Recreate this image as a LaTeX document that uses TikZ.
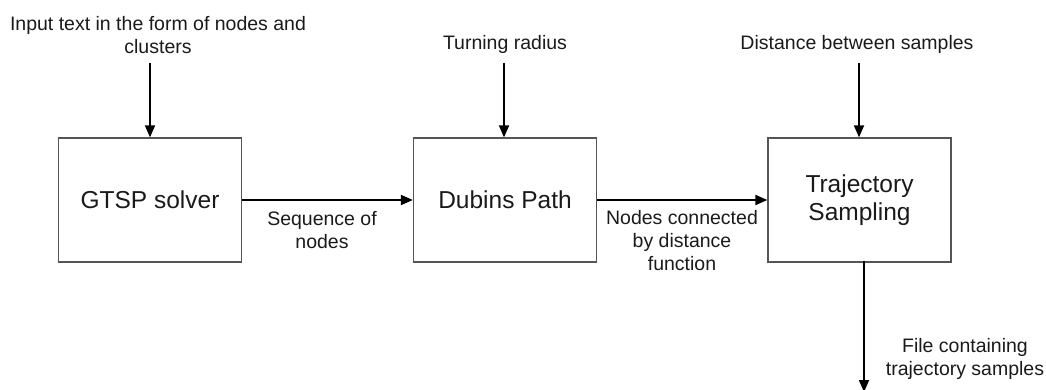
\documentclass[tikz,border=0pt]{standalone}
\usepackage{fontspec}
\setmainfont{Liberation Sans}
\usetikzlibrary{arrows.meta}
\definecolor{ink}{HTML}{1A1A1A}
\definecolor{boxgray}{HTML}{555555}
\begin{document}
\begin{tikzpicture}[x=1pt,y=-1pt,
  block/.style={draw=boxgray, line width=1.3pt, minimum width=183pt,
    minimum height=124pt, inner sep=0pt, text=ink, align=center,
    font=\fontsize{24.5}{28}\selectfont},
  lbl/.style={inner sep=0pt, text=ink, align=center,
    font=\fontsize{19.5}{23}\selectfont},
  flow/.style={line width=1.8pt, draw=black,
    -{Triangle[length=12pt,width=10pt]}}]
\useasboundingbox (0,0) rectangle (1046,390);

% processing stages
\node[block] (gtsp)   at (150,200)   {GTSP solver};
\node[block] (dubins) at (505,200)   {Dubins Path};
\node[block] (traj)   at (859.5,200) {Trajectory\\Sampling};

% inputs above each stage (base = baseline of the last line)
\node[lbl, anchor=base] (inlbl)   at (158,54) {Input text in the form of nodes and\\clusters};
\node[lbl, anchor=base] (radlbl)  at (505,50) {Turning radius};
\node[lbl, anchor=base] (distlbl) at (857,50) {Distance between samples};

\coordinate (gtspin)   at (150,63);
\coordinate (dubinsin) at (504,63);
\coordinate (trajin)   at (859,63);
\coordinate (trajout)  at (864,392);

\draw[flow] (gtspin) -- (gtsp.north -| gtspin);
\draw[flow] (dubinsin) -- (dubins.north -| dubinsin);
\draw[flow] (trajin) -- (traj.north -| trajin);

% data passed between stages
\draw[flow] (gtsp.east) -- (dubins.west);
\draw[flow] (dubins.east) -- (traj.west);
\draw[flow] ([yshift=2pt]traj.south -| trajout) -- (trajout);

\node[lbl, anchor=base] (seqlbl)  at (322,248) {Sequence of\\nodes};
\node[lbl, anchor=base] (conlbl)  at (682,270) {Nodes connected\\by distance\\function};
\node[lbl, anchor=base] (filelbl) at (965,375) {File containing\\trajectory samples};
\end{tikzpicture}
\end{document}
